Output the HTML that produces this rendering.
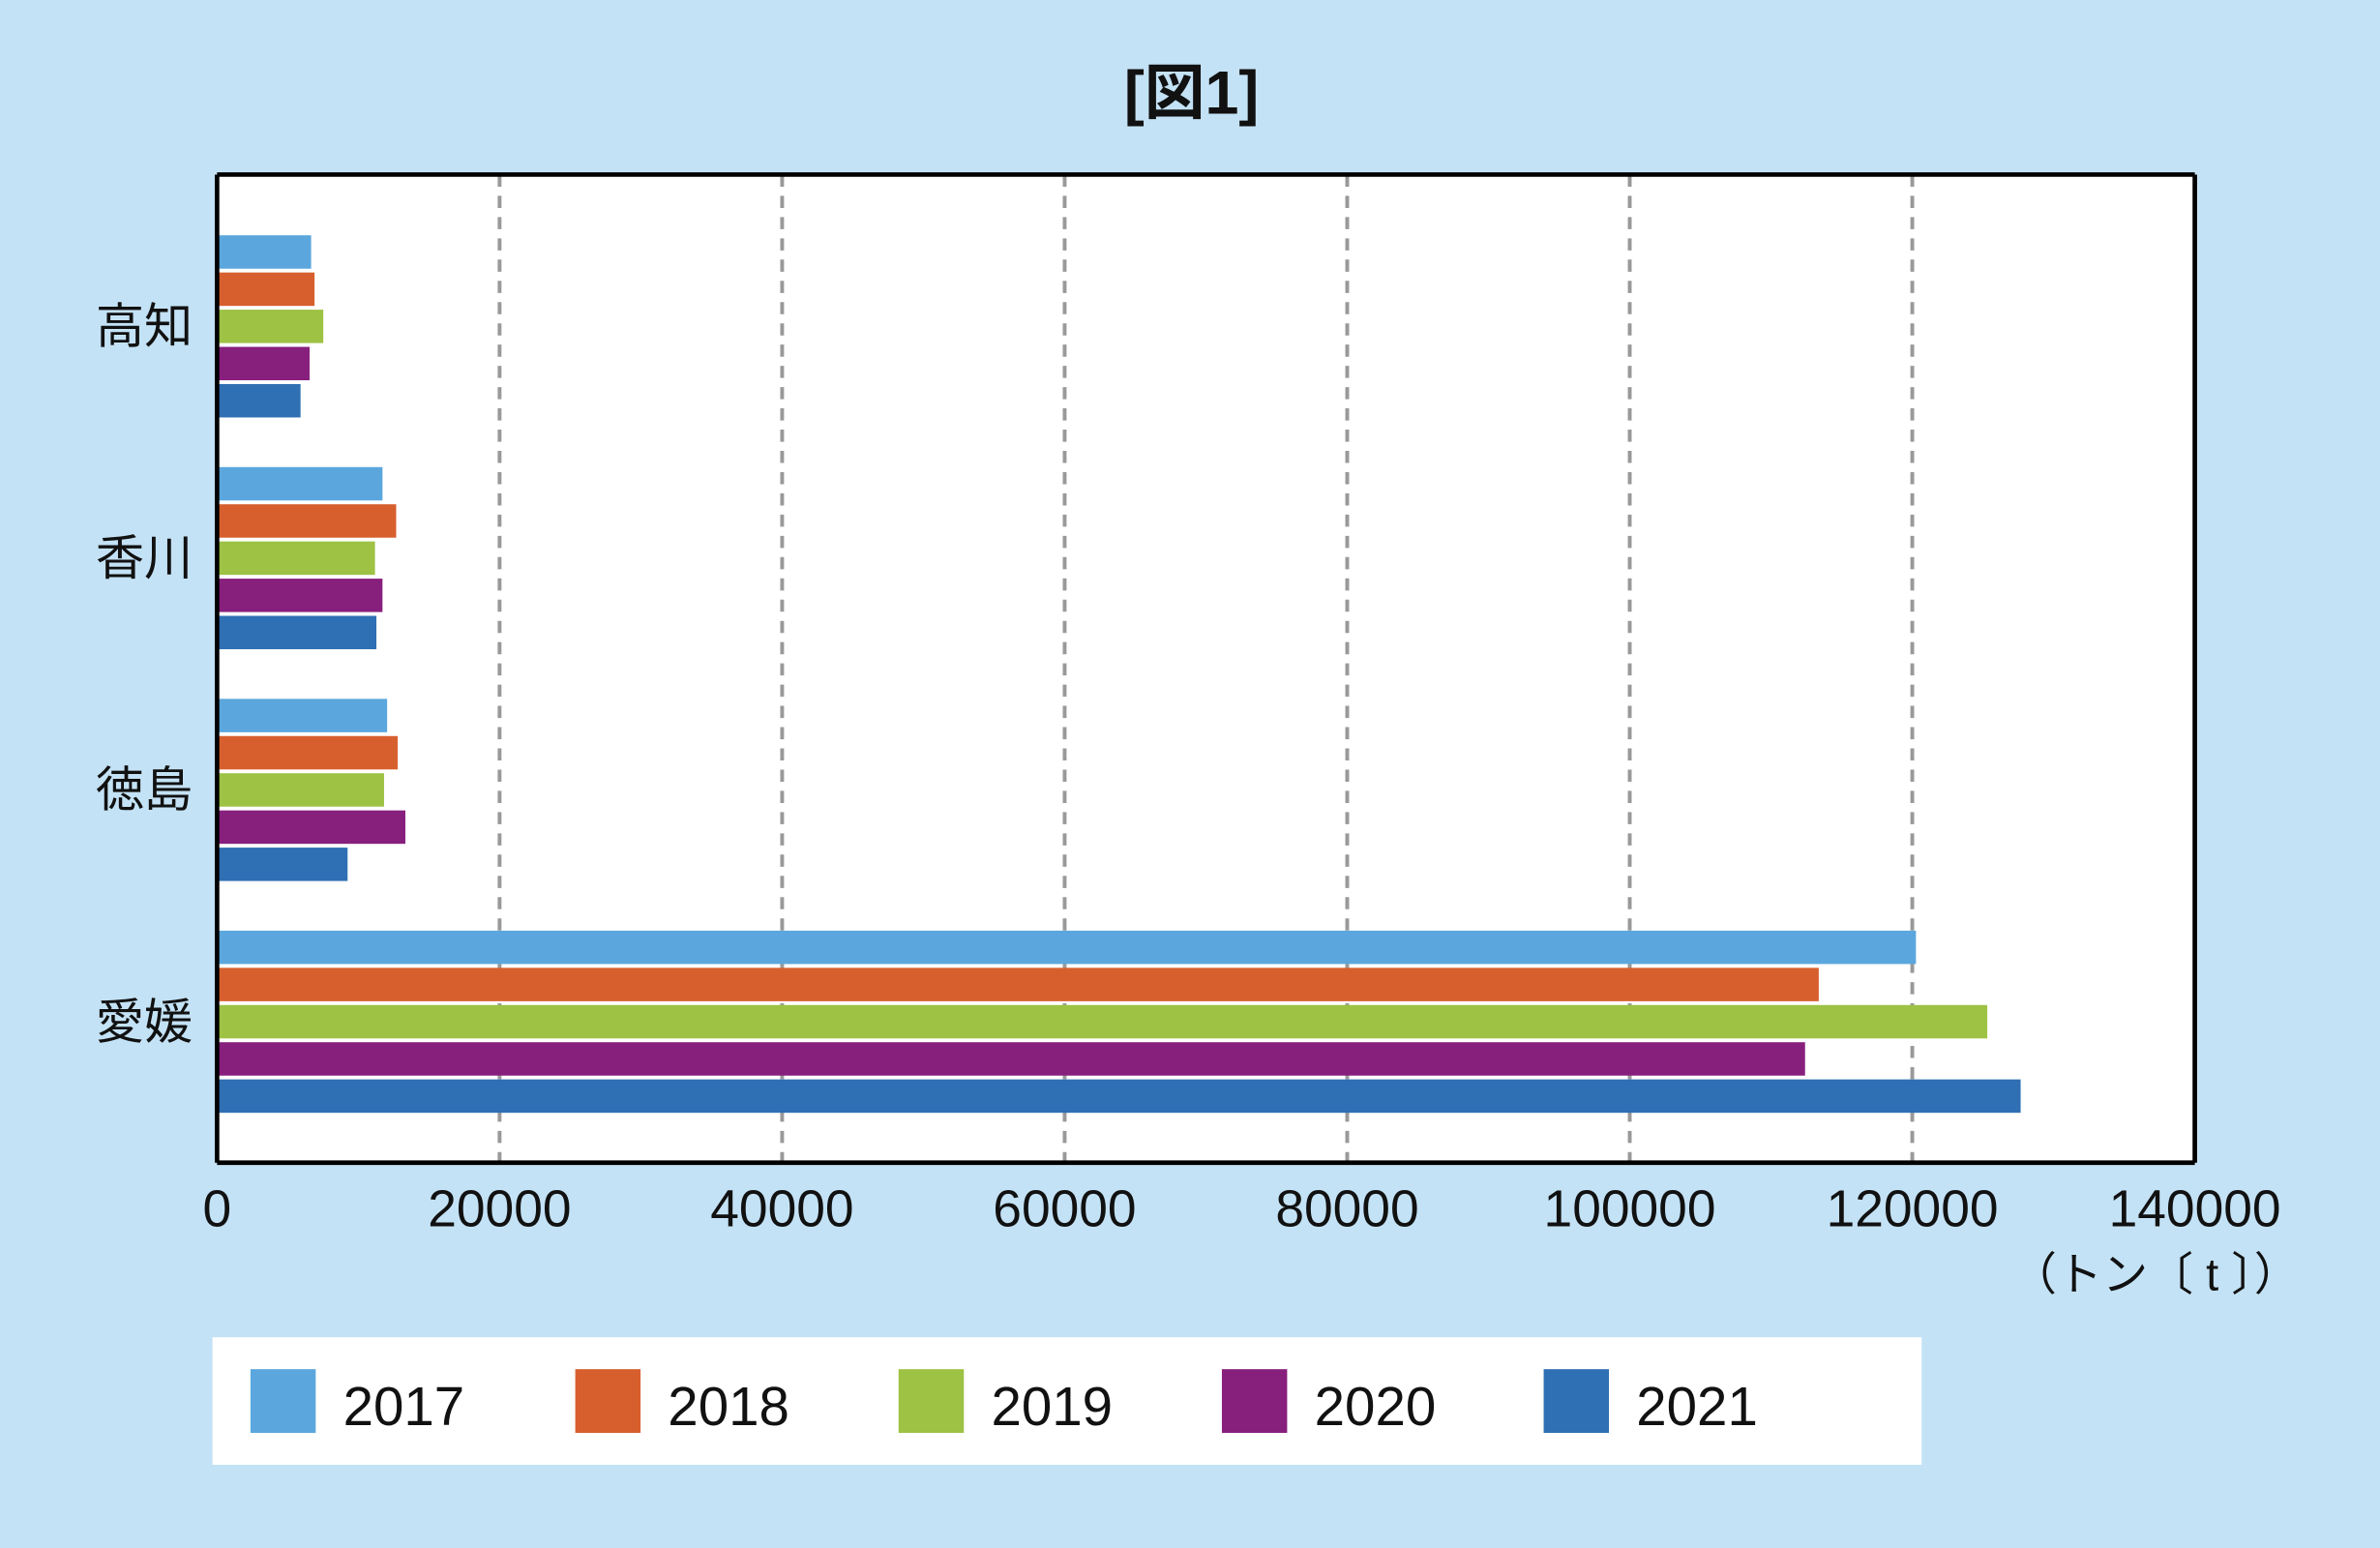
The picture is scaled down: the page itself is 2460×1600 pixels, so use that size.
<!DOCTYPE html>
<html><head><meta charset="utf-8"><style>
html,body{margin:0;padding:0;background:#c4e2f5;}
svg{display:block;font-family:"Liberation Sans","Noto Sans CJK JP",sans-serif;}
</style></head><body>
<svg id="chart" width="2460" height="1600" viewBox="0 0 1568 1019.8">
<rect x="0" y="0" width="1568" height="1020" fill="#c4e2f5"/>
<text x="785" y="75" text-anchor="middle" font-size="40" font-weight="bold" fill="#111">[図1]</text>
<rect x="143" y="115" width="1303" height="651" fill="#fff"/>
<g id="grid"></g>
<g id="bars"></g>
<line x1="143" y1="115" x2="1446" y2="115" stroke="#000" stroke-width="3"/>
<line x1="1446" y1="115" x2="1446" y2="766" stroke="#000" stroke-width="3"/>
<line x1="143" y1="766" x2="1446" y2="766" stroke="#000" stroke-width="3"/>
<line x1="143" y1="115" x2="143" y2="766" stroke="#000" stroke-width="3"/>
<g id="xticks"></g>
<g id="ycats"></g>
<text x="1515" y="850" text-anchor="end" font-size="30" fill="#111">（トン〔 t 〕）</text>
<rect x="140" y="881" width="1126" height="84" fill="#fff"/>
<g id="legend"></g>
</svg>
<script>
const categories = ["高知","香川","徳島","愛媛"];
const years = ["2017","2018","2019","2020","2021"];
const s2017 = [6660, 11710, 12040, 120260];
const s2018 = [6900, 12680, 12790, 113380];
const s2019 = [7520, 11180, 11820, 125310];
const s2020 = [6550, 11710, 13330, 112410];
const s2021 = [5910, 11280, 9240, 127670];
const xTicks = [0,20000,40000,60000,80000,100000,120000,140000];
const series = [s2017,s2018,s2019,s2020,s2021];
const colors = ["#5ba7dd","#d75f2e","#9dc244","#871f7d","#2f6fb3"];
const NS="http://www.w3.org/2000/svg";
const x0=143,x1=1446,xmax=140000;
const xs=v=>x0+(v/xmax)*(x1-x0);
const groupCenter=i=>215+i*152.7;
const barStep=24.5,barH=22;
function mk(t,a){const e=document.createElementNS(NS,t);for(const k in a)e.setAttribute(k,a[k]);return e;}
const grid=document.getElementById('grid'),xt=document.getElementById('xticks');
xTicks.forEach((v,i)=>{
  if(v>0&&v<xmax){const l=mk('line',{x1:xs(v),x2:xs(v),y1:115,y2:766,stroke:'#999','stroke-width':2.5,'stroke-dasharray':'8,6'});
  
  
  grid.appendChild(l);}
  const t=mk('text',{x:xs(v),y:808,'text-anchor':'middle','font-size':34,fill:'#111'});
  t.textContent=v;
  
  
  xt.appendChild(t);
});
const yc=document.getElementById('ycats'),bars=document.getElementById('bars');
categories.forEach((c,i)=>{
  const t=mk('text',{x:95,y:groupCenter(i)+11,'text-anchor':'middle','font-size':32,fill:'#111'});
  t.textContent=c;
  
  
  yc.appendChild(t);
  series.forEach((s,j)=>{
    const y=groupCenter(i)+(j-2)*barStep-barH/2;
    const r=mk('rect',{x:x0,y:y,width:xs(s[i])-x0,height:barH,fill:colors[j]});
    
    
    bars.appendChild(r);
  });
});
const lg=document.getElementById('legend');
const lx=[165,379,592,805,1017];
years.forEach((y,j)=>{
  const r=mk('rect',{x:lx[j],y:902,width:43,height:42,fill:colors[j]});
  
  
  lg.appendChild(r);
  const t=mk('text',{x:lx[j]+61,y:939,'font-size':36,fill:'#111'});
  t.textContent=y;
  
  
  lg.appendChild(t);
});
</script>
</body></html>
